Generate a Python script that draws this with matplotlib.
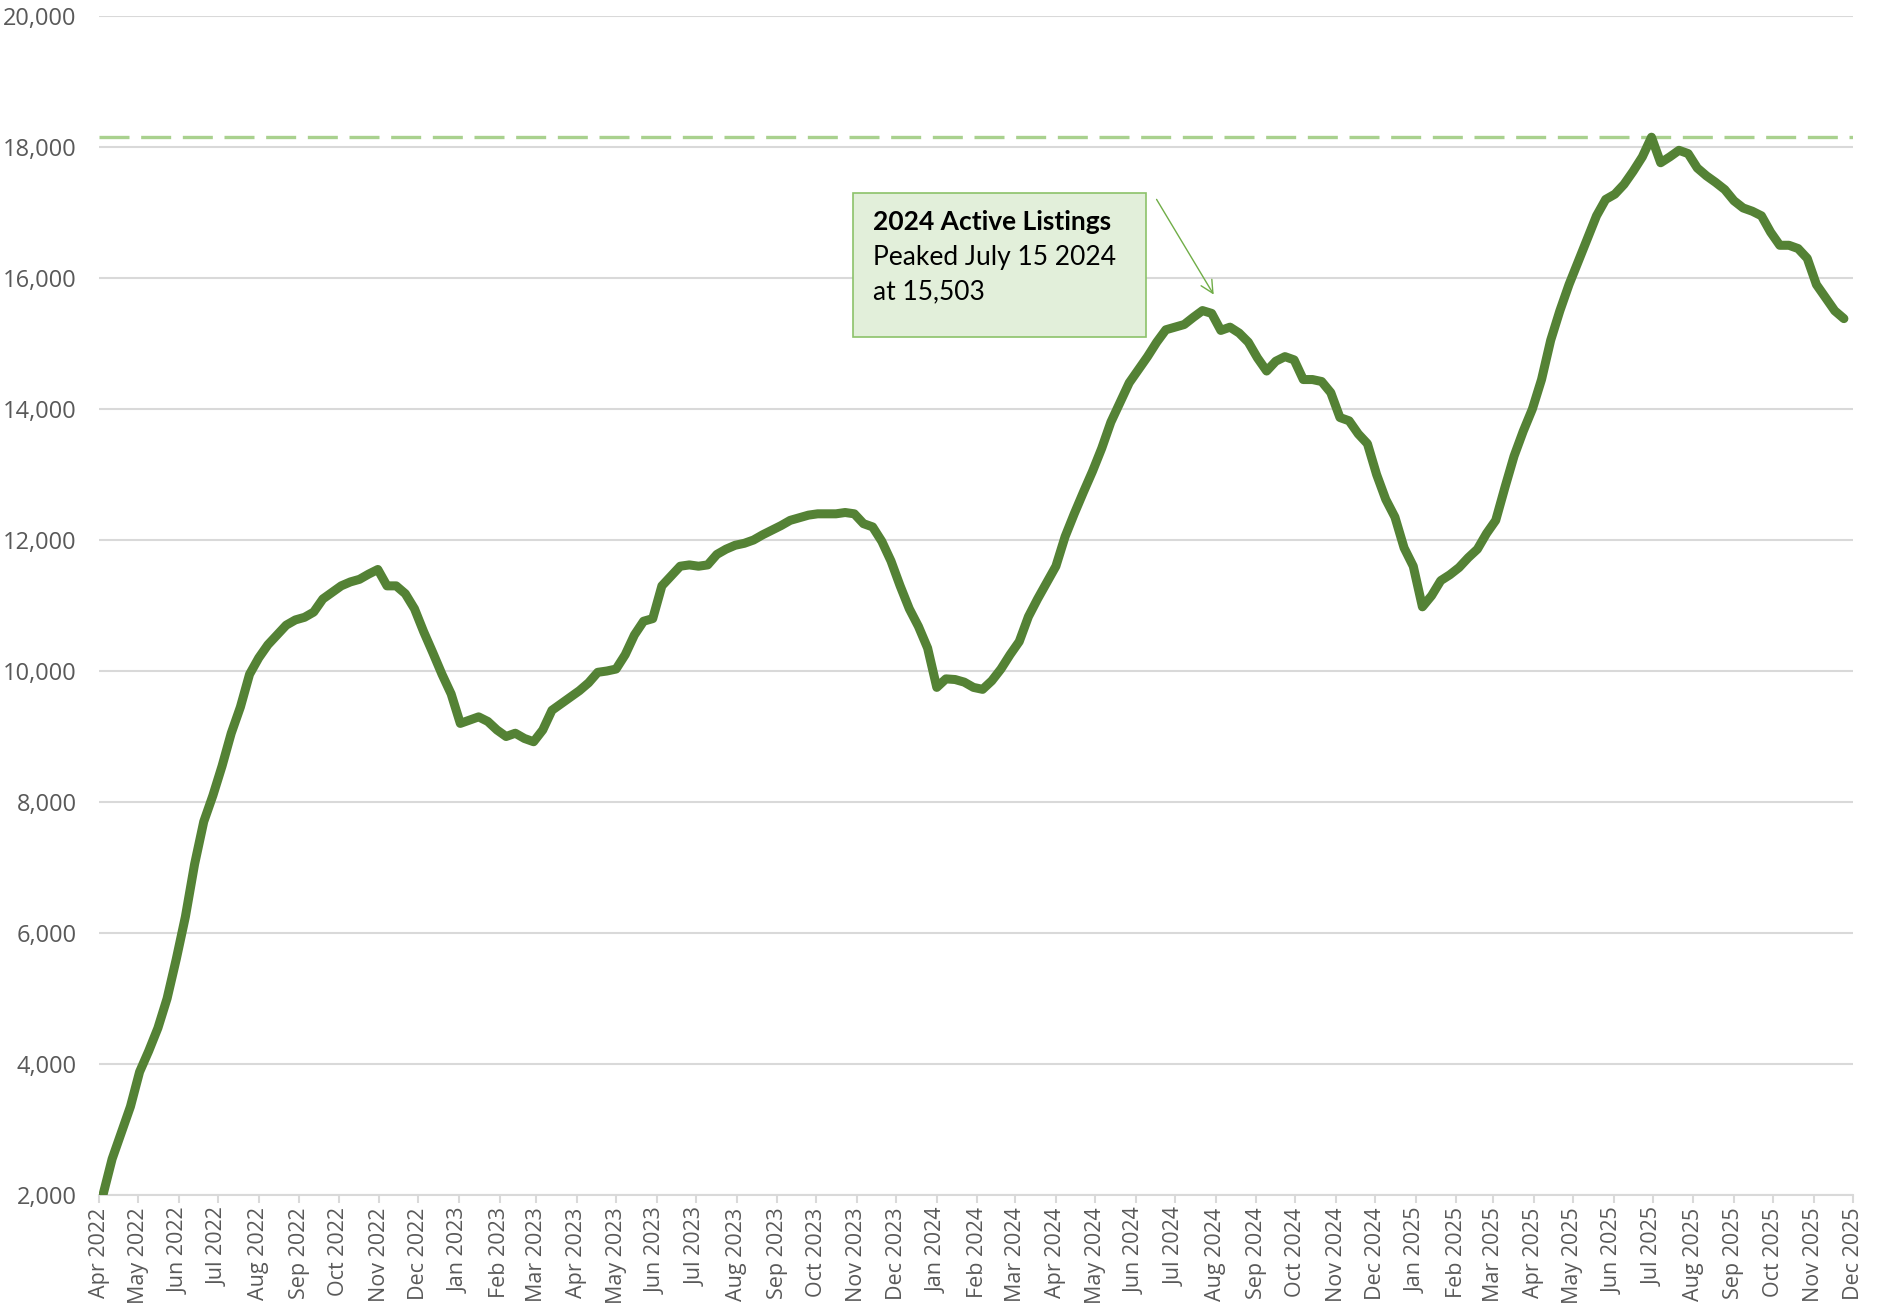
import pandas as pd
import matplotlib.pyplot as plt
import matplotlib.dates as mdates
from matplotlib.patches import Rectangle
from matplotlib.ticker import FuncFormatter


# weekly active listings, first week of April 2022 onward
start_date = "2022-04-04"

listings = [
    2000, 2550, 2950, 3350, 3880, 4200, 4550, 5000, 5600, 6250,
    7050, 7700, 8100, 8550, 9050, 9450, 9950, 10200, 10400, 10550,
    10700, 10780, 10820, 10900, 11100, 11200, 11300, 11360, 11400, 11480,
    11550, 11300, 11300, 11180, 10950, 10600, 10280, 9950, 9650, 9200,
    9250, 9300, 9230, 9100, 9000, 9050, 8970, 8920, 9100, 9400,
    9500, 9600, 9700, 9820, 9980, 10000, 10030, 10250, 10550, 10760,
    10800, 11300, 11450, 11600, 11620, 11600, 11620, 11780, 11860, 11920,
    11950, 12000, 12080, 12150, 12220, 12300, 12340, 12380, 12400, 12400,
    12400, 12420, 12400, 12250, 12200, 11980, 11680, 11300, 10950, 10680,
    10350, 9750, 9880, 9870, 9830, 9750, 9720, 9850, 10030, 10250,
    10450, 10830, 11100, 11350, 11600, 12050, 12400, 12730, 13050, 13400,
    13800, 14100, 14400, 14600, 14800, 15020, 15210, 15250, 15290, 15400,
    15503, 15460, 15200, 15250, 15160, 15020, 14780, 14580, 14730, 14800,
    14750, 14450, 14450, 14420, 14250, 13870, 13820, 13620, 13470, 13000,
    12620, 12350, 11880, 11600, 10980, 11150, 11380, 11470, 11580, 11730,
    11860, 12100, 12300, 12800, 13280, 13660, 14000, 14450, 15050, 15500,
    15900, 16250, 16600, 16950, 17200, 17280, 17430, 17630, 17850, 18150,
    17760, 17850, 17950, 17900, 17680, 17560, 17460, 17350, 17180, 17070,
    17020, 16950, 16700, 16500, 16500, 16450, 16300, 15900, 15700, 15500,
    15380
]

peak_2025 = 18150

annotation_title = "2024 Active Listings"
annotation_lines = ["Peaked July 15 2024", "at 15,503"]

y_ticks = list(range(2000, 20001, 2000))

dates = pd.date_range(start_date, periods=len(listings), freq="7D")

df = pd.DataFrame({"Date": dates, "Listings": listings})


plt.rcParams["font.family"] = ["Open Sans", "DejaVu Sans"]

fig = plt.figure(figsize=(18.79, 13.04), dpi=100)
ax = fig.add_axes([0.0527, 0.0836, 0.9335, 0.9041])

ax.axhline(
    peak_2025,
    color="#A9D18E",
    linewidth=2.4,
    dashes=(9, 3.5),
    zorder=2
)

ax.plot(
    df["Date"],
    df["Listings"],
    color="#548235",
    linewidth=6.5,
    solid_joinstyle="round",
    solid_capstyle="round",
    zorder=3
)

ax.set_ylim(2000, 20000)
ax.set_xlim(pd.Timestamp("2022-04-01"), pd.Timestamp("2025-12-01"))

ax.set_yticks(y_ticks)
ax.yaxis.set_major_formatter(FuncFormatter(lambda v, p: f"{int(v):,}"))

ax.xaxis.set_major_locator(mdates.MonthLocator())
ax.xaxis.set_major_formatter(mdates.DateFormatter("%b %Y"))

ax.grid(True, axis="y", color="#D9D9D9", linewidth=1.5, zorder=0)
ax.set_axisbelow(True)

for side in ["left", "right", "top"]:
    ax.spines[side].set_visible(False)
ax.spines["bottom"].set_color("#D9D9D9")
ax.spines["bottom"].set_linewidth(1.5)

ax.tick_params(
    axis="y",
    length=0,
    pad=16,
    labelcolor="#595959"
)
ax.tick_params(
    axis="x",
    length=6,
    width=1.5,
    color="#D9D9D9",
    pad=3,
    labelcolor="#595959",
    labelrotation=90
)

# set tick label fonts explicitly after the locators are in place
fig.canvas.draw()
for label in ax.get_yticklabels():
    label.set_fontsize(17)
    label.set_fontfamily("Open Sans")
for label in ax.get_xticklabels():
    label.set_fontsize(15.5)
    label.set_fontfamily("Open Sans")

# callout box for the 2024 peak
box = Rectangle(
    (0.4299, 0.7277),
    0.1670,
    0.1222,
    transform=ax.transAxes,
    facecolor="#E2EFDA",
    edgecolor="#8CC26A",
    linewidth=1.2,
    zorder=4
)
ax.add_patch(box)

ax.text(
    0.4413, 0.8253,
    annotation_title,
    transform=ax.transAxes,
    fontsize=19,
    fontweight="bold",
    family=["Lato", "DejaVu Sans"],
    va="center",
    ha="left",
    zorder=5
)

for i, line in enumerate(annotation_lines):
    ax.text(
        0.4413, 0.7956 - i * 0.0297,
        line,
        transform=ax.transAxes,
        fontsize=19,
        family=["Lato", "DejaVu Sans"],
        va="center",
        ha="left",
        zorder=5
    )

ax.annotate(
    "",
    xy=(0.6363, 0.7617),
    xytext=(0.6021, 0.8465),
    xycoords="axes fraction",
    textcoords="axes fraction",
    arrowprops=dict(
        arrowstyle="->,head_length=0.9,head_width=0.45",
        color="#70AD47",
        linewidth=1.0
    ),
    zorder=5
)

fig.savefig("out.png", dpi=100)
plt.close()

print("Saved: out.png")
